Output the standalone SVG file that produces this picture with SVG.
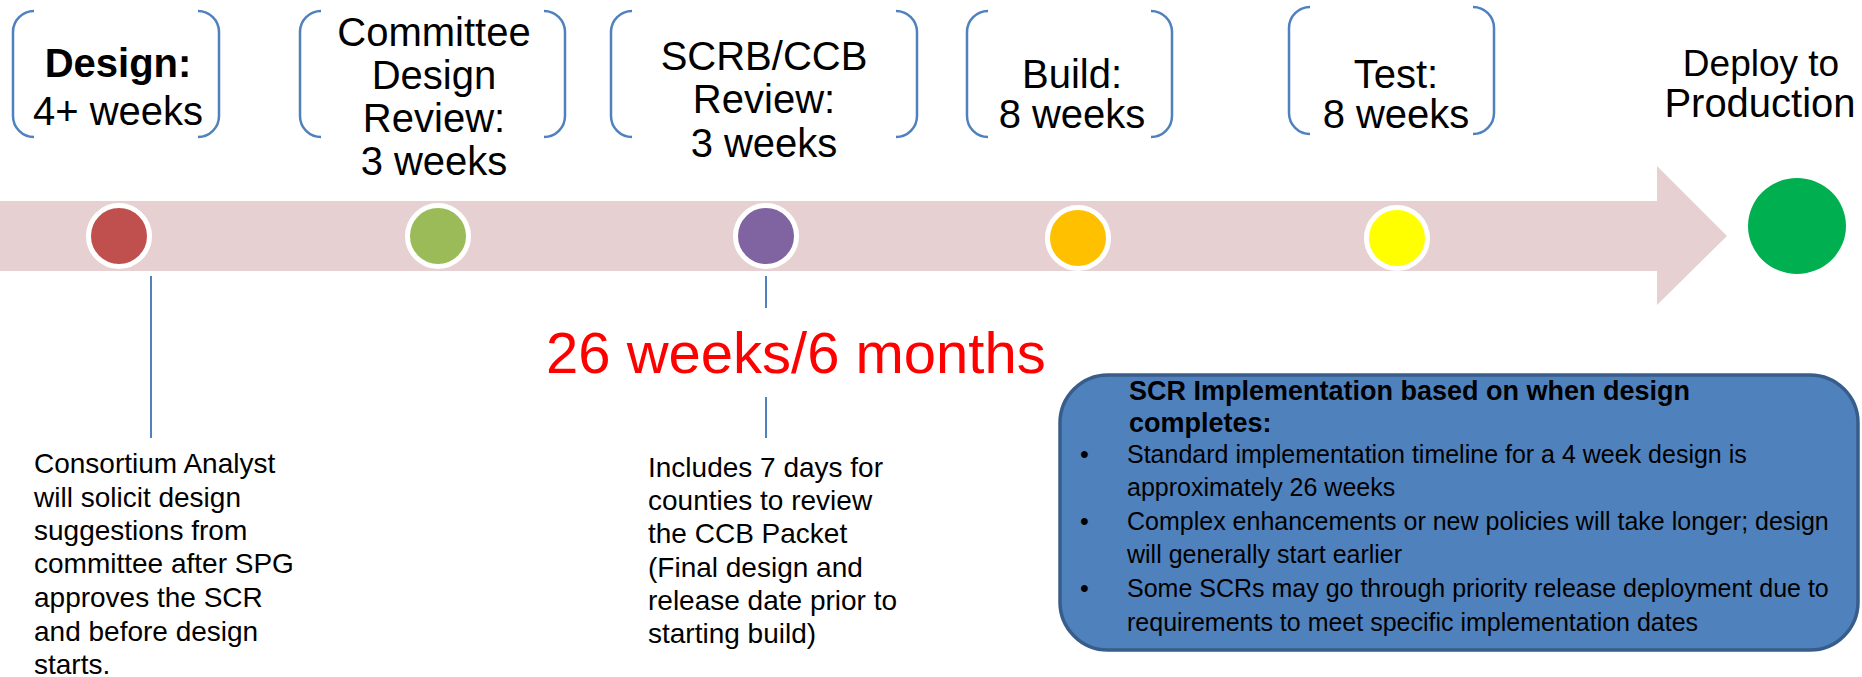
<svg xmlns="http://www.w3.org/2000/svg" width="1862" height="677" viewBox="0 0 1862 677">
  <style>
    .bracket { fill: none; stroke: #4F81BD; stroke-width: 2.5; }
    .head { font-family: "Liberation Sans", Arial, sans-serif; font-size: 40px; fill: #000; text-anchor: middle; }
    .bold { font-weight: bold; }
    .dot { stroke: #FFFFFF; stroke-width: 5; }
    .tick { stroke: #4F81BD; stroke-width: 2; }
    .note { font-family: "Liberation Sans", Arial, sans-serif; font-size: 28px; fill: #000; }
    .box-title { font-family: "Liberation Sans", Arial, sans-serif; font-size: 27px; font-weight: bold; fill: #000; }
    .box-text { font-family: "Liberation Sans", Arial, sans-serif; font-size: 25px; fill: #000; }
  </style>

  <!-- timeline band with arrow head -->
  <g id="timeline">
    <path d="M0,201 H1657 V166 L1727,236 L1657,305 V271 H0 Z" fill="#E6D0D1"/>
  </g>

  <!-- phase: design -->
  <g id="phase-design">
    <path class="bracket" d="M34,11 A21,21 0 0 0 13,32 V116 A21,21 0 0 0 34,137"/>
    <path class="bracket" d="M198,11 A21,21 0 0 1 219,32 V116 A21,21 0 0 1 198,137"/>
    <text class="head bold" x="118" y="77">Design:</text>
    <text class="head" x="118" y="125">4+ weeks</text>
    <circle class="dot" cx="119" cy="236" r="30.5" fill="#C0504D"/>
  </g>

  <!-- phase: committee design review -->
  <g id="phase-committee">
    <path class="bracket" d="M321,11 A21,21 0 0 0 300,32 V116 A21,21 0 0 0 321,137"/>
    <path class="bracket" d="M544,11 A21,21 0 0 1 565,32 V116 A21,21 0 0 1 544,137"/>
    <text class="head" x="434" y="46">Committee</text>
    <text class="head" x="434" y="89">Design</text>
    <text class="head" x="434" y="132">Review:</text>
    <text class="head" x="434" y="175">3 weeks</text>
    <circle class="dot" cx="438" cy="236" r="30.5" fill="#9BBB59"/>
  </g>

  <!-- phase: SCRB/CCB review -->
  <g id="phase-scrb">
    <path class="bracket" d="M632,11 A21,21 0 0 0 611,32 V116 A21,21 0 0 0 632,137"/>
    <path class="bracket" d="M896,11 A21,21 0 0 1 917,32 V116 A21,21 0 0 1 896,137"/>
    <text class="head" x="764" y="70">SCRB/CCB</text>
    <text class="head" x="764" y="113">Review:</text>
    <text class="head" x="764" y="157">3 weeks</text>
    <circle class="dot" cx="766" cy="236" r="30.5" fill="#8064A2"/>
  </g>

  <!-- phase: build -->
  <g id="phase-build">
    <path class="bracket" d="M988,11 A21,21 0 0 0 967,32 V116 A21,21 0 0 0 988,137"/>
    <path class="bracket" d="M1151,11 A21,21 0 0 1 1172,32 V116 A21,21 0 0 1 1151,137"/>
    <text class="head" x="1072" y="88">Build:</text>
    <text class="head" x="1072" y="128">8 weeks</text>
    <circle class="dot" cx="1078" cy="238" r="30.5" fill="#FFC000"/>
  </g>

  <!-- phase: test -->
  <g id="phase-test">
    <path class="bracket" d="M1310,7 A21,21 0 0 0 1289,28 V113 A21,21 0 0 0 1310,134"/>
    <path class="bracket" d="M1473,7 A21,21 0 0 1 1494,28 V113 A21,21 0 0 1 1473,134"/>
    <text class="head" x="1396" y="88">Test:</text>
    <text class="head" x="1396" y="128">8 weeks</text>
    <circle class="dot" cx="1397" cy="238" r="30.5" fill="#FFFF00"/>
  </g>

  <!-- deploy to production -->
  <g id="phase-deploy">
    <text class="head" x="1761" y="76" style="font-size:37px">Deploy to</text>
    <text class="head" x="1760" y="117">Production</text>
    <ellipse cx="1797" cy="226" rx="49" ry="48" fill="#00B050"/>
  </g>

  <!-- leader lines -->
  <g id="connectors">
    <line class="tick" x1="151" y1="276" x2="151" y2="438"/>
    <line class="tick" x1="766" y1="276" x2="766" y2="308"/>
    <line class="tick" x1="766" y1="397" x2="766" y2="438"/>
  </g>

  <!-- total duration -->
  <g id="total">
    <text x="546" y="373" font-family="'Liberation Sans', Arial, sans-serif" font-size="58" fill="#FF0000">26 weeks/6 months</text>
  </g>

  <!-- note under design -->
  <g id="note-design" class="note">
    <text x="34" y="473">Consortium Analyst</text>
    <text x="34" y="507">will solicit design</text>
    <text x="34" y="540">suggestions from</text>
    <text x="34" y="573">committee after SPG</text>
    <text x="34" y="607">approves the SCR</text>
    <text x="34" y="641">and before design</text>
    <text x="34" y="674">starts.</text>
  </g>

  <!-- note under review -->
  <g id="note-review" class="note">
    <text x="648" y="477">Includes 7 days for</text>
    <text x="648" y="510">counties to review</text>
    <text x="648" y="543">the CCB Packet</text>
    <text x="648" y="577">(Final design and</text>
    <text x="648" y="610">release date prior to</text>
    <text x="648" y="643">starting build)</text>
  </g>

  <!-- implementation summary box -->
  <g id="summary">
    <rect x="1060" y="375" width="798" height="275" rx="48" ry="48" fill="#4F81BD" stroke="#385D8A" stroke-width="3.5"/>
    <text class="box-title" x="1129" y="400">SCR Implementation based on when design</text>
    <text class="box-title" x="1129" y="432">completes:</text>
    <g class="box-text">
      <text x="1080" y="463">•</text>
      <text x="1127" y="463">Standard implementation timeline for a 4 week design is</text>
      <text x="1127" y="496">approximately 26 weeks</text>
      <text x="1080" y="530">•</text>
      <text x="1127" y="530">Complex enhancements or new policies will take longer; design</text>
      <text x="1127" y="563">will generally start earlier</text>
      <text x="1080" y="597">•</text>
      <text x="1127" y="597">Some SCRs may go through priority release deployment due to</text>
      <text x="1127" y="631">requirements to meet specific implementation dates</text>
    </g>
  </g>
</svg>
